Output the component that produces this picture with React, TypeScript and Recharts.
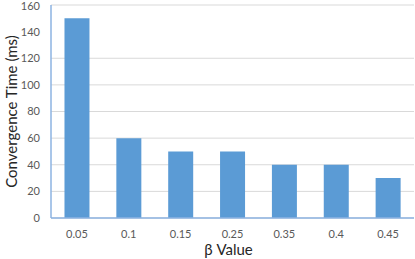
import React from 'react';
import { BarChart, Bar, XAxis, YAxis, CartesianGrid } from 'recharts';

const betaValues = ['0.05', '0.1', '0.15', '0.25', '0.35', '0.4', '0.45'];
const convergenceMs = [150, 60, 50, 50, 40, 40, 30];
const yTicks = [0, 20, 40, 60, 80, 100, 120, 140, 160];

const data = betaValues.map((beta, i) => ({ beta, time: convergenceMs[i] }));

const FONT = 'Lato, "Open Sans", sans-serif';
const BORDER = '#8DB3E2';

export default function App() {
  return (
    <div style={{ position: 'absolute', left: 0, top: 0, width: 415, height: 259, background: '#fff', fontFamily: FONT }}>
      <BarChart
        width={415}
        height={259}
        data={data}
        margin={{ top: 5, right: 1, left: 0, bottom: 0 }}
        barCategoryGap="26%"
      >
        <CartesianGrid vertical={false} stroke="#D9D9D9" strokeWidth={1} />
        <XAxis
          dataKey="beta"
          height={41}
          axisLine={{ stroke: BORDER, strokeWidth: 1.5 }}
          tickLine={false}
          tickMargin={6}
          tick={{ fill: '#595959', fontSize: 11, fontFamily: FONT }}
          label={{ value: 'β Value', position: 'insideBottom', offset: 4, dx: -4, fill: '#262626', fontSize: 15, fontFamily: FONT }}
        />
        <XAxis xAxisId="top" orientation="top" height={0} tick={false} tickLine={false} axisLine={{ stroke: BORDER, strokeWidth: 1.5 }} />
        <YAxis
          width={51}
          domain={[0, 160]}
          ticks={yTicks}
          axisLine={{ stroke: BORDER, strokeWidth: 1.5 }}
          tickLine={false}
          tickMargin={5}
          tick={{ fill: '#595959', fontSize: 11, fontFamily: FONT }}
          label={{ value: 'Convergence Time (ms)', angle: -90, position: 'insideLeft', offset: 12, dy: 0, fill: '#262626', fontSize: 15, fontFamily: FONT, style: { textAnchor: 'middle' } }}
        />
        <YAxis yAxisId="right" orientation="right" width={0} tick={false} tickLine={false} axisLine={{ stroke: BORDER, strokeWidth: 1.5 }} />
        <Bar dataKey="time" fill="#5B9BD5" isAnimationActive={false} />
      </BarChart>
    </div>
  );
}
